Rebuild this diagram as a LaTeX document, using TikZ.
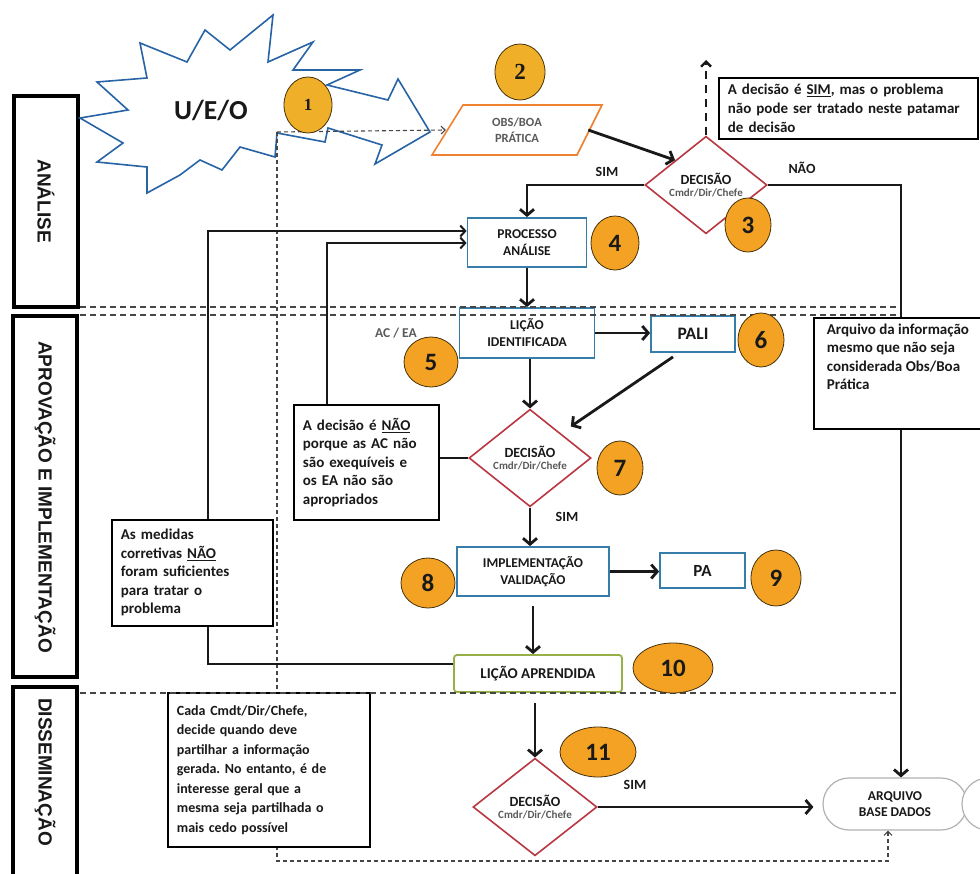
\documentclass[tikz,border=0pt]{standalone}
\usepackage{fontspec}
\setmainfont{Carlito}
\newfontfamily\sidefont{Liberation Sans}
\newfontfamily\numfont{Liberation Serif}
\usetikzlibrary{shapes.geometric,shapes.misc,arrows.meta}
\definecolor{txt}{RGB}{25,25,25}
\definecolor{boxblue}{RGB}{55,125,170}
\definecolor{diamred}{RGB}{185,55,65}
\definecolor{paraorange}{RGB}{238,130,50}
\definecolor{lagreen}{RGB}{150,175,70}
\definecolor{starblue}{RGB}{40,100,165}
\definecolor{numfill}{RGB}{244,162,36}
\definecolor{numgold}{RGB}{240,175,40}
\definecolor{numdraw}{RGB}{70,50,10}
\definecolor{dashgray}{RGB}{70,70,70}
\definecolor{subgray}{RGB}{90,90,90}
\begin{document}
\frenchspacing
\begin{tikzpicture}[x=1pt,y=-1pt,
  every node/.style={text=txt, font=\bfseries},
  bluebox/.style={draw=boxblue, line width=1.8pt, fill=white, align=center, inner sep=0pt, font=\bfseries\fontsize{13.5}{17}\selectfont},
  decision/.style={diamond, draw=diamred, line width=1.6pt, fill=white, inner sep=0pt, align=center, font=\bfseries\fontsize{14}{15}\selectfont},
  numc/.style={ellipse, draw=numdraw, line width=0.8pt, fill=numfill, inner sep=0pt, font=\bfseries\fontsize{25}{25}\selectfont},
  notebox/.style={draw=black, line width=1.8pt, fill=white, align=left, inner xsep=9pt, inner ysep=4pt, font=\bfseries\fontsize{15}{18.5}\selectfont},
  sidebox/.style={draw=black, line width=3.2pt},
  sidetext/.style={rotate=-90, font=\sidefont\bfseries\fontsize{19}{19}\selectfont},
  flowline/.style={draw=txt, line width=2.8pt, -{Straight Barb[length=6pt,width=14pt]}},
  fbline/.style={draw=txt, line width=2pt, -{Straight Barb[length=5pt,width=11pt]}},
  sepline/.style={draw=dashgray, line width=1.1pt, dash pattern=on 6pt off 4pt},
  dflow/.style={draw=dashgray, line width=1.1pt, dash pattern=on 4pt off 3pt, -{Straight Barb[length=4pt,width=8pt]}},
  lbl/.style={font=\bfseries\fontsize{14}{15}\selectfont},
]
\fill[white] (0,0) rectangle (980,874);
\useasboundingbox (0,0) rectangle (980,874);

% side boxes
\draw[sidebox] (14,96) rectangle (78,307);
\node[sidetext] (ana) at (46,201) {ANÁLISE};
\draw[sidebox] (13,316) rectangle (77,677);
\node[sidetext] (apr) at (45,497) {APROVAÇÃO E IMPLEMENTAÇÃO};
\draw[sidebox] (13,687) rectangle (77,890);
\node[sidetext] (dis) at (45,772) {DISSEMINAÇÃO};

% starburst with arrow
\draw[starblue, line width=1.6pt, fill=white, line join=miter]
 (80,118) -- (128,110) -- (97,82) -- (147,78) -- (140,43) -- (187,62) -- (205,30)
 -- (230,50) -- (273,15) -- (268,62) -- (313,42) -- (293,70) -- (360,70) -- (327,85)
 -- (388,100) -- (398,79) -- (430,132) -- (375,164) -- (382,145) -- (328,128)
 -- (325,142) -- (277,133) -- (275,157) -- (240,147) -- (222,170) -- (200,160)
 -- (180,175) -- (147,193) -- (147,167) -- (97,162) -- (123,143) -- cycle;
\node[font=\bfseries\fontsize{27.5}{27.5}\selectfont] (ueo) at (211,110) {U/E/O};

% parallelogram
\draw[paraorange, line width=1.6pt, fill=white] (432,155) -- (463,105) -- (602,105) -- (577,155) -- cycle;
\node[align=center, minimum width=142pt, minimum height=50pt, inner sep=0pt, text=subgray, font=\bfseries\fontsize{12.5}{16}\selectfont] (obs) at (517,130) {OBS/BOA\\PRÁTICA};

% main nodes
\node[decision, minimum width=122pt, minimum height=82pt] (d3) at (706,185)
  {DECISÃO\\[-3pt]\textcolor{subgray}{\fontsize{11}{12}\selectfont Cmdr/Dir/Chefe}};
\node[bluebox, minimum width=119pt, minimum height=49pt] (proc) at (527,242.5) {PROCESSO\\ANÁLISE};
\node[bluebox, minimum width=135pt, minimum height=50pt] (lid) at (527,333) {LIÇÃO\\IDENTIFICADA};
\node[bluebox, minimum width=84pt, minimum height=36pt, font=\bfseries\fontsize{17.5}{17.5}\selectfont] (pali) at (693,334) {PALI};
\node[decision, minimum width=122pt, minimum height=84pt] (d7) at (530,458)
  {DECISÃO\\[-3pt]\textcolor{subgray}{\fontsize{11}{12}\selectfont Cmdr/Dir/Chefe}};
\node[bluebox, minimum width=152pt, minimum height=49pt] (impl) at (533,571.5) {IMPLEMENTAÇÃO\\VALIDAÇÃO};
\node[bluebox, minimum width=85pt, minimum height=35pt, font=\bfseries\fontsize{17}{17}\selectfont] (pa) at (702.5,570.5) {PA};
\node[draw=lagreen, line width=1.8pt, fill=white, rounded corners=3pt, minimum width=168pt, minimum height=37pt, inner sep=0pt, font=\bfseries\fontsize{15}{16}\selectfont] (la) at (538,673.5) {LIÇÃO APRENDIDA};
\node[decision, minimum width=124pt, minimum height=83pt] (d11) at (535,807)
  {DECISÃO\\[-3pt]\textcolor{subgray}{\fontsize{11}{12}\selectfont Cmdr/Dir/Chefe}};
\node[rounded rectangle, draw=black!30, line width=1.2pt, fill=white, minimum width=144pt, minimum height=52pt, inner sep=0pt, align=center, font=\bfseries\fontsize{13.5}{16}\selectfont] (arq) at (895,804) {ARQUIVO\\BASE DADOS};
\node[rounded rectangle, draw=black!30, line width=1.2pt, fill=white, minimum width=96pt, minimum height=52pt, inner sep=0pt] (arq2) at (1010,804) {};

% coordinates
\coordinate (dstart) at (277,132);
\coordinate (dcorner) at (277,861);
\coordinate (upend) at (706,60);
\coordinate (fb1) at (208,231);
\coordinate (fb2) at (327,243);

% dashed flows
\draw[dflow] (dstart) -- (obs.west);
\draw[dflow] (dstart) -- (dcorner) -| ([xshift=-7pt]arq.south);
\draw[draw=txt, line width=2.4pt, dash pattern=on 8pt off 6pt, -{Straight Barb[length=5pt,width=10pt]}] (d3.north) -- (upend);

% connectors
\draw[flowline] (obs.east) -- (d3.north west);
\draw[flowline] (d3.west) -| (proc.north);
\draw[flowline] (d3.east) -| ([xshift=6pt]arq.north);
\draw[flowline] (proc.south) -- (lid.north);
\draw[flowline] (lid.east) -- (lid.east -| pali.west);
\draw[flowline] (d7.north |- lid.south) -- (d7.north);
\draw[flowline, shorten >=12pt] ([xshift=-20pt,yshift=-4pt]pali.south) -- (d7.north east);
\draw[flowline] (d7.south) -- (d7.south |- impl.north);
\draw[flowline] (impl.east) -- (impl.east -| pa.west);
\draw[flowline] ([yshift=-9pt]impl.south) -- (impl.south |- la.north);
\draw[flowline] ([yshift=-10pt]la.south -| d11.north) -- (d11.north);
\draw[flowline, shorten >=9pt] (d11.east) -- (d11.east -| arq.west);
\draw[fbline] ([yshift=10pt]la.west) -| (fb1) -- (fb1 -| proc.west);
\draw[fbline] (d7.west) -| (fb2) -- (fb2 -| proc.west);

% notes
\node[notebox, anchor=north west, text width=241pt, minimum height=61pt, font=\bfseries\fontsize{15}{19}\selectfont] (simnote) at (718,77)
  {A decisão é \underline{SIM}, mas o problema\\não pode ser tratado neste patamar\\de decisão};
\node[notebox, anchor=north west, text width=127pt, minimum height=115pt] (naonote) at (293,404)
  {A decisão é \underline{NÃO}\\porque as AC não\\são exequíveis e\\os EA não são\\apropriados};
\node[notebox, anchor=north west, text width=143pt, minimum height=106pt] (medidas) at (111,519)
  {As medidas\\corretivas \underline{NÃO}\\foram suficientes\\para tratar o\\problema};
\node[notebox, anchor=north west, text width=184pt, minimum height=154pt, font=\bfseries\fontsize{14}{19.5}\selectfont] (cada) at (167,692)
  {Cada Cmdt/Dir/Chefe,\\decide quando deve\\partilhar a informação\\gerada. No entanto, é de\\interesse geral que a\\mesma seja partilhada o\\mais cedo possível};
\node[notebox, anchor=north west, inner xsep=13pt, inner ysep=6pt] (arqnote) at (813,317)
  {\parbox[t][99pt][t]{160pt}{\raggedright Arquivo da informação\\mesmo que não seja\\considerada Obs/Boa\\Prática}};

% separators
\draw[sepline] (80,307) -- (900,307);
\draw[sepline] (80,315) -- (900,315);
\draw[sepline] (80,693) -- (900,693);

% labels
\node[lbl] (sim1) at (607,172) {SIM};
\node[lbl] (nao1) at (802,168) {NÃO};
\node[lbl] (sim2) at (567,517) {SIM};
\node[lbl] (sim3) at (635,785) {SIM};
\node[font=\bfseries\fontsize{13.5}{14}\selectfont, text=subgray] (acea) at (396,333) {AC / EA};

% number circles
\node[numc, fill=numgold, minimum width=48pt, minimum height=56pt, font=\numfont\bfseries\fontsize{17}{17}\selectfont] (n1) at (308,105) {1};
\node[numc, fill=numgold, minimum width=50pt, minimum height=56pt, font=\numfont\bfseries\fontsize{23}{23}\selectfont] (n2) at (520,72) {2};
\node[numc, minimum width=46pt, minimum height=54pt] (n3) at (748,225) {3};
\node[numc, minimum width=48pt, minimum height=54pt] (n4) at (615,243) {4};
\node[numc, minimum width=54pt, minimum height=50pt] (n5) at (431,362) {5};
\node[numc, minimum width=46pt, minimum height=54pt] (n6) at (761,340) {6};
\node[numc, minimum width=46pt, minimum height=54pt] (n7) at (620,468) {7};
\node[numc, minimum width=54pt, minimum height=50pt] (n8) at (428,583) {8};
\node[numc, minimum width=50pt, minimum height=56pt] (n9) at (776,578) {9};
\node[numc, minimum width=80pt, minimum height=50pt] (n10) at (673,668) {10};
\node[numc, minimum width=76pt, minimum height=50pt] (n11) at (598,752) {11};
\end{tikzpicture}
\end{document}
